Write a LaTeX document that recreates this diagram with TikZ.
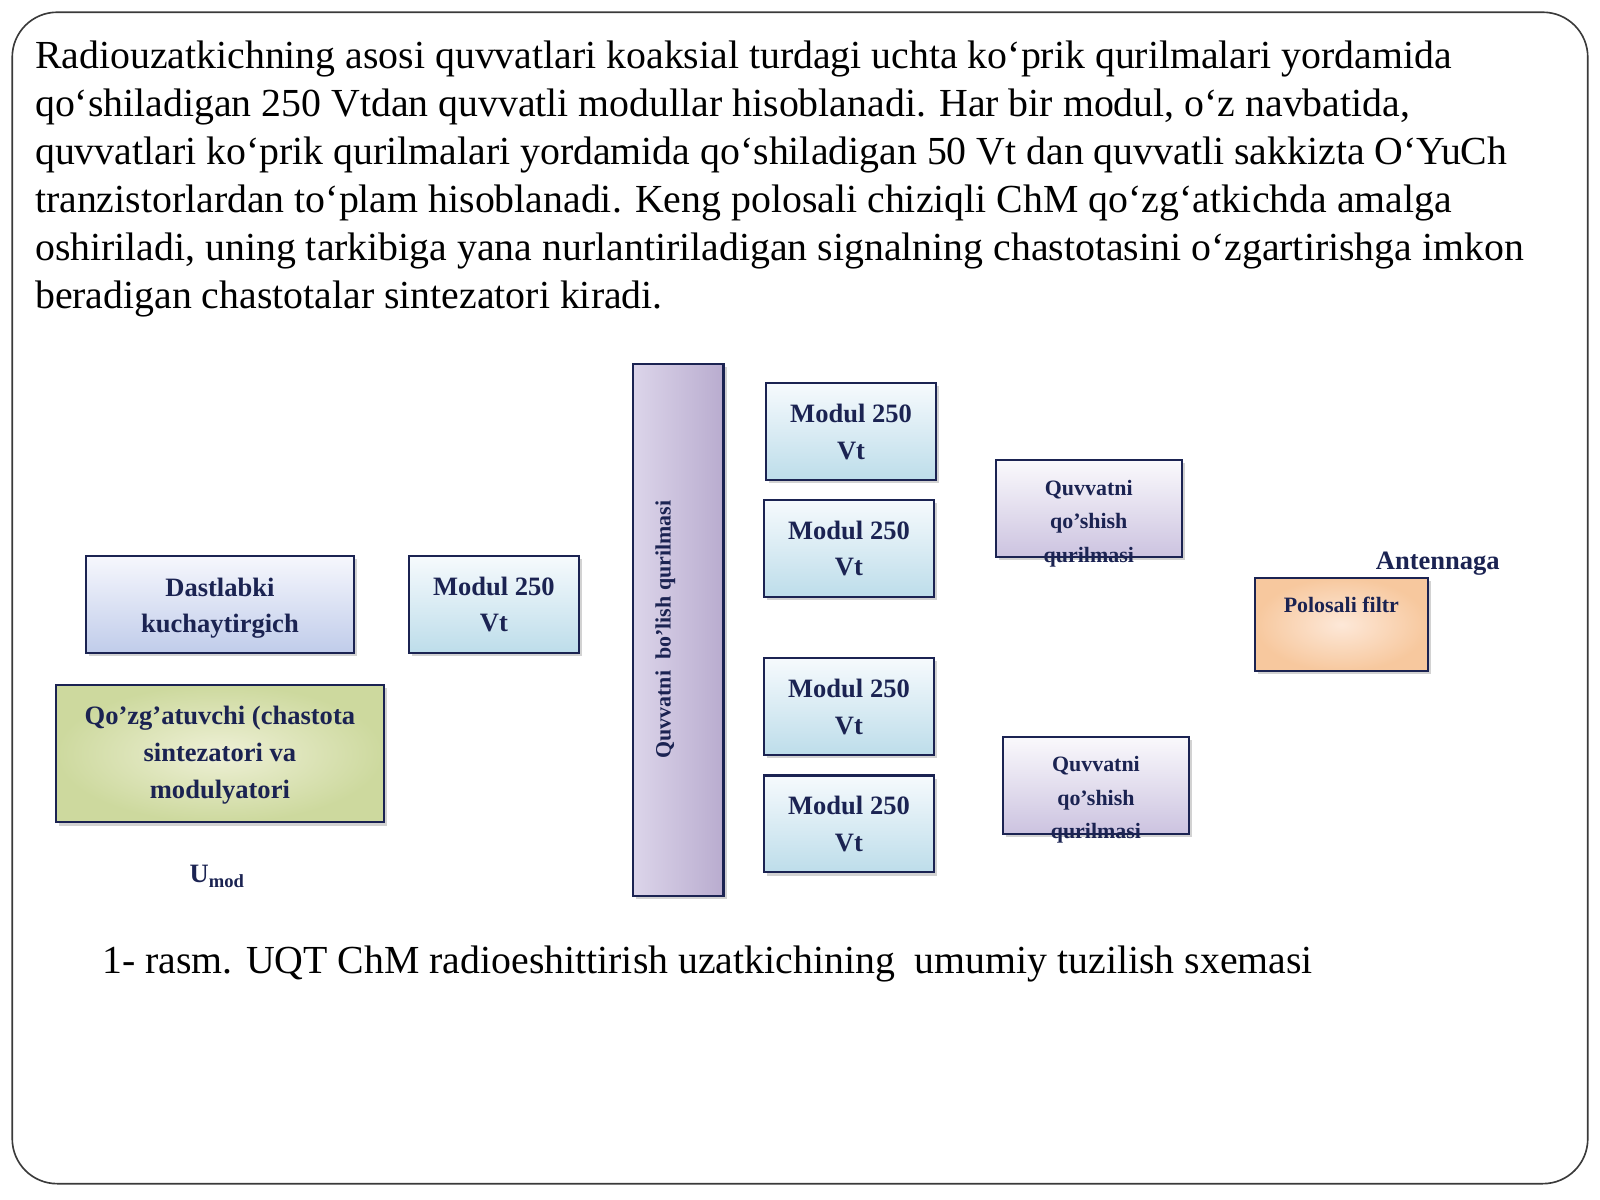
\documentclass[tikz,border=0pt]{standalone}
\usepackage{fontspec}
\setmainfont{Liberation Serif}
\usetikzlibrary{shadows}
\definecolor{navy}{HTML}{1B2352}
\definecolor{framecol}{HTML}{3A3A3A}
\definecolor{modtop}{HTML}{F6FAFD}
\definecolor{modbot}{HTML}{BDDDEA}
\definecolor{dasttop}{HTML}{F6F7FD}
\definecolor{dastbot}{HTML}{C0CCEA}
\definecolor{excin}{HTML}{EEF0D6}
\definecolor{excout}{HTML}{CDD99E}
\definecolor{barleft}{HTML}{DCD5EA}
\definecolor{barmid}{HTML}{EDE9F4}
\definecolor{barright}{HTML}{B9ACCF}
\definecolor{addtop}{HTML}{FAF9FC}
\definecolor{addbot}{HTML}{CCC3E0}
\definecolor{filtin}{HTML}{FDE8D8}
\definecolor{filtout}{HTML}{F7C89E}
\tikzset{
  boxbase/.style={draw=navy, line width=1pt, inner sep=0pt, align=center,
    text=navy, font=\fontsize{13}{18}\selectfont\bfseries,
    drop shadow={shadow xshift=1.5pt, shadow yshift=-1.5pt, opacity=0.35}},
  modbox/.style={boxbase, top color=modtop, bottom color=modbot,
    minimum width=83pt, minimum height=47.5pt},
  smalltext/.style={inner sep=0pt, align=center, text=navy,
    font=\fontsize{10.75}{16.5}\selectfont\bfseries},
  labeltext/.style={inner sep=0pt, text=navy, font=\fontsize{13}{18}\selectfont\bfseries},
  bodytext/.style={inner sep=0pt, align=left, text=black, font=\fontsize{19.5}{23.5}\selectfont}
}
\begin{document}
\begin{tikzpicture}[x=0.5pt,y=-0.5pt]
\useasboundingbox[fill=white] (0,0) rectangle (1568,1176);
\draw[framecol, line width=0.8pt, rounded corners=22pt] (12,12) rectangle (1556,1160);

\node[bodytext, anchor=north west] (para) at (34,40) {Radiouzatkichning asosi quvvatlari koaksial turdagi uchta ko‘prik qurilmalari yordamida\\
qo‘shiladigan 250 Vtdan quvvatli modullar hisoblanadi. Har bir modul, o‘z navbatida,\\
quvvatlari ko‘prik qurilmalari yordamida qo‘shiladigan 50 Vt dan quvvatli sakkizta O‘YuCh\\
tranzistorlardan to‘plam hisoblanadi. Keng polosali chiziqli ChM qo‘zg‘atkichda amalga\\
oshiriladi, uning tarkibiga yana nurlantiriladigan signalning chastotasini o‘zgartirishga imkon\\
beradigan chastotalar sintezatori kiradi.};

\node[boxbase, top color=dasttop, bottom color=dastbot, minimum width=131.5pt, minimum height=47.5pt]
  (dast) at (215.5,592.5) {};
\node[labeltext, align=center] (dastt) at (215.5,596) {Dastlabki\\kuchaytirgich};
\node[modbox] (mod0) at (484,592.5) {Modul 250\\Vt};
\node[boxbase, shading=radial, inner color=excin, outer color=excout, minimum width=160.5pt, minimum height=67.5pt]
  (exc) at (215.5,738.5) {};
\node[labeltext, align=center] (exct) at (215.5,740) {Qo’zg’atuvchi (chastota\\sintezatori va\\modulyatori};
\node[labeltext] (umod) at (213,859) {U\textsubscript{mod}};

\node[boxbase, left color=barleft, middle color=barmid, right color=barright,
  minimum width=44.5pt, minimum height=260.5pt] (bar) at (664.5,617.5) {};
\node[smalltext, rotate=90] (bartxt) at (652,617) {Quvvatni\ \ bo’lish qurilmasi};

\node[modbox] (mod1) at (834,423) {Modul 250\\Vt};
\node[modbox] (mod2) at (832,537.5) {Modul 250\\Vt};
\node[modbox] (mod3) at (832,692.5) {Modul 250\\Vt};
\node[modbox] (mod4) at (832,807.5) {Modul 250\\Vt};

\node[boxbase, top color=addtop, bottom color=addbot, minimum width=91pt, minimum height=47.5pt]
  (add1) at (1067,498.5) {};
\node[smalltext] (add1t) at (1067,513) {Quvvatni\\qo’shish\\qurilmasi};
\node[boxbase, top color=addtop, bottom color=addbot, minimum width=91pt, minimum height=47.5pt]
  (add2) at (1074,769.5) {};
\node[smalltext] (add2t) at (1074,784) {Quvvatni\\qo’shish\\qurilmasi};

\node[labeltext] (ant) at (1409,552) {Antennaga};
\node[boxbase, shading=radial, inner color=filtin, outer color=filtout,
  minimum width=84.5pt, minimum height=46pt] (filt) at (1314.5,612) {};
\node[smalltext] (filtt) at (1314.5,593) {Polosali filtr};

\node[bodytext, anchor=base west] (cap) at (100,954) {1- rasm. UQT ChM radioeshittirish uzatkichining\ \ umumiy tuzilish sxemasi};
\end{tikzpicture}
\end{document}
